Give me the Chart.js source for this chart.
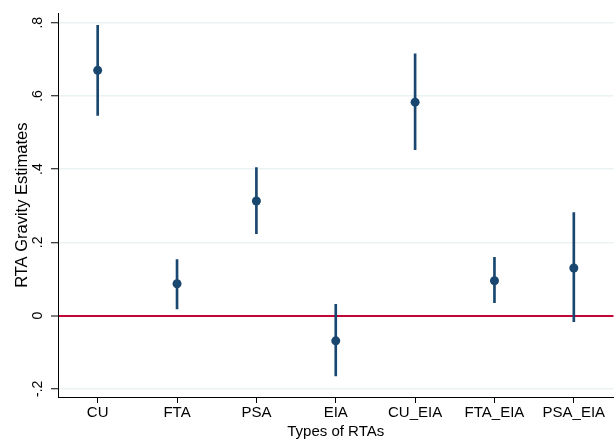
<!DOCTYPE html>
<html>
<head>
<meta charset="utf-8">
<script src="https://cdn.jsdelivr.net/npm/chart.js@4/dist/chart.umd.min.js"></script>
<style>
  html, body { margin: 0; padding: 0; background: #fff; overflow: hidden; }
  canvas { display: block; }
</style>
</head>
<body>
<canvas id="rtaChart" width="618" height="445"></canvas>
<script>
const rtaTypes = ['CU', 'FTA', 'PSA', 'EIA', 'CU_EIA', 'FTA_EIA', 'PSA_EIA'];
const estimates = [0.670, 0.087, 0.313, -0.069, 0.583, 0.095, 0.130];
const ciLower = [0.547, 0.018, 0.224, -0.165, 0.453, 0.035, -0.017];
const ciUpper = [0.793, 0.153, 0.404, 0.031, 0.715, 0.159, 0.281];
const yTicks = [-0.2, 0, 0.2, 0.4, 0.6, 0.8];
const yTickLabels = ['-.2', '0', '.2', '.4', '.6', '.8'];

const navy = '#1a476f';
const cranberry = '#c10534';
const gridColor = '#eaf2f3';

const ctx = document.getElementById('rtaChart').getContext('2d');

const ciBars = rtaTypes.map((_, i) => [ciLower[i], ciUpper[i]]);

new Chart(ctx, {
    type: 'bar',
    data: {
        labels: rtaTypes,
        datasets: [
            {
                type: 'line',
                label: 'Estimate',
                data: estimates,
                showLine: false,
                pointRadius: 4.5,
                pointBackgroundColor: navy,
                pointBorderWidth: 0,
                order: 0
            },
            {
                label: '95% CI',
                data: ciBars,
                backgroundColor: navy,
                borderWidth: 0,
                barThickness: 2,
                order: 1
            }
        ]
    },
    options: {
        responsive: false,
        animation: false,
        layout: { padding: { top: 13, left: 0, right: 0, bottom: 0 } },
        plugins: {
            legend: { display: false },
            tooltip: { enabled: false }
        },
        scales: {
            x: {
                type: 'category',
                offset: true,
                grid: {
                    offset: false,
                    drawOnChartArea: false,
                    tickLength: 6,
                    tickColor: '#000',
                    tickWidth: 1
                },
                border: { color: '#000', width: 1 },
                ticks: {
                    color: '#000',
                    padding: 1,
                    maxRotation: 0,
                    autoSkip: false,
                    font: { family: 'Liberation Sans', size: 15 }
                },
                title: {
                    display: true,
                    text: 'Types of RTAs',
                    color: '#000',
                    padding: { top: 0, bottom: 4 },
                    font: { family: 'Liberation Sans', size: 15 }
                },
                afterFit: (scale) => { scale.height = 48; }
            },
            y: {
                min: -0.2225,
                max: 0.8255,
                afterBuildTicks: (scale) => {
                    scale.ticks = yTicks.map(v => ({ value: v }));
                },
                grid: {
                    color: (c) => c.tick && c.tick.value === 0 ? cranberry : gridColor,
                    lineWidth: (c) => c.tick && c.tick.value === 0 ? 2 : 1.5,
                    tickLength: 7,
                    tickColor: '#000',
                    tickWidth: 1
                },
                border: { color: '#000', width: 1 },
                ticks: {
                    color: '#000',
                    padding: 5,
                    minRotation: 90,
                    maxRotation: 90,
                    crossAlign: 'center',
                    font: { family: 'Liberation Sans', size: 14 },
                    callback: (v) => yTickLabels[yTicks.indexOf(v)]
                },
                title: {
                    display: true,
                    text: 'RTA Gravity Estimates',
                    color: '#000',
                    padding: { top: 12.5, bottom: 0 },
                    font: { family: 'Liberation Sans', size: 16.5 }
                },
                afterFit: (scale) => { scale.width = 58; }
            }
        }
    }
});
</script>
</body>
</html>
